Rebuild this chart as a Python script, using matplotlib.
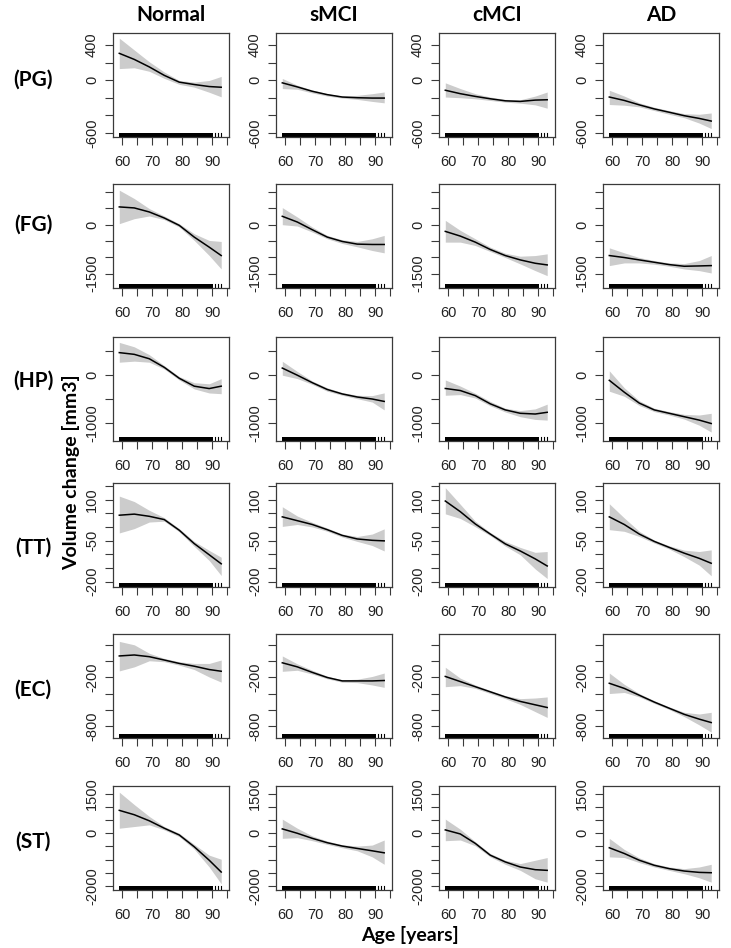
import matplotlib
matplotlib.use("Agg")
import matplotlib.pyplot as plt

# ---------------- data ----------------
groups = ["Normal", "sMCI", "cMCI", "AD"]
regions = ["(PG)", "(FG)", "(HP)", "(TT)", "(EC)", "(ST)"]
ages = [59, 64, 69, 74, 79, 84, 89, 93]

# each: one list per group (Normal, sMCI, cMCI, AD)
pg_fit = [[304, 235, 150, 54, -23, -50, -73, -81],
          [-31, -77, -127, -165, -192, -200, -204, -204],
          [-115, -154, -185, -212, -235, -242, -227, -223],
          [-192, -231, -281, -327, -365, -404, -435, -465]]
pg_hi = [[477, 342, 208, 92, -4, -23, -4, 42],
         [19, -58, -112, -154, -181, -173, -154, -135],
         [-31, -96, -154, -192, -219, -223, -181, -135],
         [-115, -181, -258, -308, -346, -381, -388, -373]]
pg_lo = [[131, 140, 100, 20, -48, -80, -138, -190],
         [-96, -104, -146, -181, -204, -219, -242, -258],
         [-192, -200, -212, -231, -250, -262, -281, -319],
         [-277, -285, -304, -346, -388, -427, -488, -550]]

fg_fit = [[546, 515, 391, 206, -21, -381, -690, -948],
          [258, 82, -155, -381, -515, -597, -608, -608],
          [-206, -350, -536, -762, -948, -1082, -1185, -1236],
          [-948, -1009, -1082, -1154, -1226, -1277, -1267, -1257]]
fg_hi = [[1061, 803, 494, 268, 30, -278, -484, -515],
         [525, 237, -72, -330, -464, -515, -433, -330],
         [134, -175, -433, -690, -876, -968, -948, -896],
         [-711, -865, -1009, -1102, -1174, -1195, -1102, -948]]
fg_lo = [[31, 185, 268, 155, -72, -484, -948, -1360],
         [0, -41, -227, -433, -577, -680, -793, -865],
         [-536, -536, -639, -824, -1009, -1205, -1411, -1566],
         [-1257, -1174, -1174, -1215, -1277, -1360, -1411, -1483]]

hp_fit = [[464, 428, 336, 157, -71, -236, -286, -236],
          [142, -7, -163, -305, -398, -462, -504, -554],
          [-284, -327, -433, -604, -731, -802, -817, -781],
          [-114, -362, -589, -731, -802, -873, -944, -1015]]
hp_hi = [[678, 585, 421, 193, -36, -164, -186, -79],
         [284, 71, -128, -270, -369, -426, -433, -376],
         [-106, -234, -384, -554, -696, -746, -710, -611],
         [85, -270, -540, -696, -767, -824, -838, -802]]
hp_lo = [[264, 286, 264, 121, -107, -293, -378, -393],
         [-7, -78, -199, -341, -426, -497, -568, -731],
         [-426, -412, -483, -646, -774, -873, -930, -944],
         [-341, -447, -639, -767, -838, -923, -1051, -1193]]

tt_fit = [[43, 47, 39, 27, -12, -61, -102, -135],
          [37, 23, 9, -10, -31, -44, -49, -51],
          [95, 56, 11, -26, -62, -88, -117, -143],
          [37, 9, -26, -53, -75, -96, -115, -133]]
tt_hi = [[113, 93, 61, 34, -6, -53, -86, -111],
         [74, 40, 17, -4, -26, -35, -26, -7],
         [144, 83, 21, -20, -53, -75, -93, -90],
         [85, 33, -16, -48, -69, -85, -90, -84]]
tt_lo = [[-22, -6, 18, 21, -18, -71, -123, -178],
         [2, 9, 0, -16, -37, -53, -68, -88],
         [48, 31, 1, -32, -70, -102, -154, -189],
         [-10, -16, -35, -59, -81, -109, -140, -179]]

ec_fit = [[63, 75, 54, 13, -29, -63, -104, -125],
          [-21, -71, -139, -202, -244, -244, -244, -239],
          [-189, -252, -315, -378, -441, -496, -538, -571],
          [-273, -336, -420, -504, -580, -655, -714, -756]]
ec_hi = [[242, 200, 96, 33, -8, -29, -29, 13],
         [63, -34, -113, -185, -231, -223, -189, -147],
         [-76, -210, -294, -361, -424, -462, -454, -441],
         [-147, -286, -399, -487, -563, -630, -651, -630]]
ec_lo = [[-121, -71, 4, -8, -50, -104, -196, -259],
         [-126, -113, -160, -218, -260, -265, -294, -323],
         [-315, -302, -336, -399, -462, -533, -622, -693],
         [-399, -386, -441, -521, -596, -683, -785, -874]]

st_fit = [[870, 704, 474, 192, -64, -512, -1024, -1472],
          [166, 0, -192, -358, -486, -576, -666, -742],
          [128, -26, -384, -832, -1088, -1280, -1382, -1408],
          [-550, -768, -1024, -1216, -1344, -1434, -1485, -1498]]
st_hi = [[1562, 1088, 640, 256, 0, -422, -832, -986],
         [538, 192, -102, -294, -435, -486, -448, -256],
         [538, 154, -320, -768, -1024, -1152, -1024, -922],
         [-192, -614, -934, -1152, -1280, -1344, -1280, -1178]]
st_lo = [[192, 256, 320, 128, -128, -602, -1280, -1920],
         [-192, -166, -282, -422, -550, -666, -896, -1178],
         [-282, -256, -474, -896, -1178, -1408, -1728, -1856],
         [-896, -922, -1114, -1280, -1408, -1536, -1690, -1856]]

# y axis ticks and the labels that are shown
pg_yticks = [-600, -400, -200, 0, 200, 400]
pg_ylabels = ["-600", "", "", "0", "", "400"]
fg_yticks = [-1500, -1000, -500, 0, 500, 1000]
fg_ylabels = ["-1500", "", "", "0", "", ""]
hp_yticks = [-1000, -500, 0, 500]
hp_ylabels = ["-1000", "", "0", ""]
tt_yticks = [-200, -150, -100, -50, 0, 50, 100, 150]
tt_ylabels = ["-200", "", "", "-50", "", "", "100", ""]
ec_yticks = [-800, -600, -400, -200, 0, 200]
ec_ylabels = ["-800", "", "", "-200", "", ""]
st_yticks = [-2000, -1500, -1000, -500, 0, 500, 1000, 1500]
st_ylabels = ["-2000", "", "", "", "0", "", "", "1500"]

x_ticks = [60, 65, 70, 75, 80, 85, 90, 95]
x_labels = ["60", "", "70", "", "80", "", "90", ""]

# rug: dense block of ages plus a few sparse older subjects
rug_dense = [59.0, 90.2]
rug_sparse = [91.0, 92.0, 93.0]

rows = [
    (pg_fit, pg_lo, pg_hi, pg_yticks, pg_ylabels, (-646, 535)),
    (fg_fit, fg_lo, fg_hi, fg_yticks, fg_ylabels, (-1945, 1250)),
    (hp_fit, hp_lo, hp_hi, hp_yticks, hp_ylabels, (-1380, 790)),
    (tt_fit, tt_lo, tt_hi, tt_yticks, tt_ylabels, (-220, 161)),
    (ec_fit, ec_lo, ec_hi, ec_yticks, ec_ylabels, (-946, 333)),
    (st_fit, st_lo, st_hi, st_yticks, st_ylabels, (-2154, 1795)),
]

# ---------------- layout ----------------
W, H = 731, 948
fig = plt.figure(figsize=(W / 100, H / 100), dpi=100)
fig.patch.set_facecolor("white")

col_left = [113, 276, 439, 603]
row_top = [33, 184, 337, 483, 634, 786]
pw, ph = 116, 104

tick_font = {"family": ["Liberation Sans", "DejaVu Sans"], "size": 10.5}
bold_font = ["Lato", "DejaVu Sans"]
edge = "#3a3a3a"
band_col = "#cccccc"

for r, (fit, lo, hi, yt, yl, ylim) in enumerate(rows):
    for c in range(4):
        ax = fig.add_axes([col_left[c] / W, 1 - (row_top[r] + ph) / H, pw / W, ph / H])
        ax.fill_between(ages, lo[c], hi[c], color=band_col, lw=0)
        ax.plot(ages, fit[c], color="black", lw=1.1)
        ax.axvspan(rug_dense[0], rug_dense[1], ymin=0, ymax=0.035, color="black", lw=0)
        for a in rug_sparse:
            ax.axvline(a, ymin=0, ymax=0.035, color="black", lw=0.8)
        ax.set_xlim(56.9, 95.6)
        ax.set_ylim(*ylim)
        ax.set_xticks(x_ticks)
        ax.set_xticklabels(x_labels, fontdict=tick_font, color="#222222")
        ax.set_yticks(yt)
        ax.set_yticklabels(yl, fontdict=tick_font, color="#222222",
                           rotation=90, va="center")
        ax.tick_params(axis="both", direction="out", length=6, width=0.8,
                       color=edge)
        ax.tick_params(axis="x", pad=7)
        ax.tick_params(axis="y", pad=4)
        for s in ax.spines.values():
            s.set_color(edge)
            s.set_linewidth(0.9)

# column titles
for c, g in enumerate(groups):
    fig.text((col_left[c] + pw / 2) / W, 1 - 15 / H, g, ha="center", va="center",
             fontsize=15, fontweight="bold", family=bold_font)

# row labels
row_label_y = [80, 225, 381, 548, 690, 842]
for r, lab in enumerate(regions):
    fig.text(33 / W, 1 - row_label_y[r] / H, lab, ha="center", va="center",
             fontsize=15, fontweight="bold", family=bold_font)

fig.text(71 / W, 1 - 472 / H, "Volume change [mm3]", rotation=90, ha="center",
         va="center", fontsize=14, fontweight="bold", family=bold_font)
fig.text(410 / W, 1 - 935 / H, "Age [years]", ha="center", va="center",
         fontsize=14, fontweight="bold", family=bold_font)

fig.savefig("out.png", dpi=100, facecolor="white")
